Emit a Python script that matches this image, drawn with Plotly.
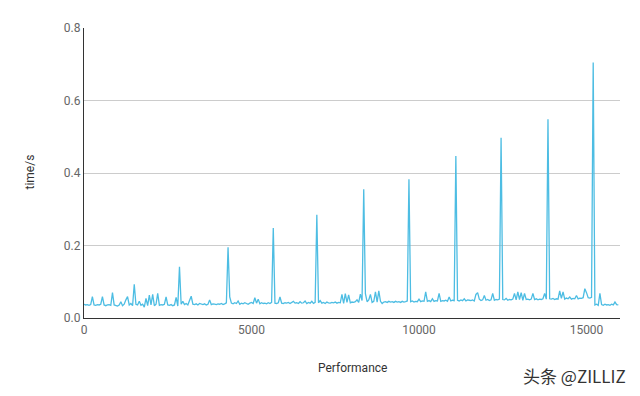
import plotly.graph_objects as go

step = 50
time_s = [
    0.038, 0.036, 0.037, 0.035, 0.037, 0.059, 0.036, 0.035, 0.037, 0.036, 0.038, 0.059, 0.036, 0.034, 0.036, 0.037, 0.035, 0.070, 0.036, 0.035,
    0.033, 0.036, 0.045, 0.034, 0.038, 0.050, 0.059, 0.036, 0.040, 0.034, 0.093, 0.038, 0.036, 0.046, 0.035, 0.038, 0.030, 0.054, 0.034, 0.063,
    0.036, 0.065, 0.034, 0.038, 0.068, 0.035, 0.037, 0.036, 0.038, 0.058, 0.036, 0.035, 0.037, 0.034, 0.036, 0.057, 0.033, 0.141, 0.038, 0.046,
    0.037, 0.040, 0.036, 0.048, 0.060, 0.038, 0.037, 0.039, 0.036, 0.040, 0.038, 0.037, 0.039, 0.036, 0.038, 0.050, 0.037, 0.039, 0.038, 0.037,
    0.039, 0.038, 0.040, 0.037, 0.039, 0.042, 0.195, 0.058, 0.041, 0.039, 0.042, 0.040, 0.047, 0.038, 0.041, 0.039, 0.042, 0.040, 0.038, 0.041,
    0.043, 0.040, 0.056, 0.041, 0.052, 0.039, 0.042, 0.040, 0.041, 0.039, 0.042, 0.040, 0.043, 0.248, 0.041, 0.040, 0.042, 0.058, 0.041, 0.040,
    0.042, 0.041, 0.043, 0.040, 0.042, 0.046, 0.041, 0.042, 0.040, 0.045, 0.041, 0.042, 0.047, 0.040, 0.043, 0.041, 0.046, 0.040, 0.043, 0.285,
    0.042, 0.048, 0.041, 0.043, 0.040, 0.044, 0.042, 0.041, 0.043, 0.042, 0.044, 0.041, 0.043, 0.042, 0.065, 0.040, 0.067, 0.043, 0.064, 0.042,
    0.044, 0.043, 0.045, 0.050, 0.043, 0.066, 0.048, 0.355, 0.067, 0.045, 0.050, 0.065, 0.043, 0.046, 0.072, 0.044, 0.075, 0.046, 0.040, 0.044,
    0.045, 0.043, 0.046, 0.044, 0.045, 0.043, 0.046, 0.044, 0.045, 0.043, 0.046, 0.044, 0.045, 0.047, 0.383, 0.045, 0.047, 0.044, 0.046, 0.045,
    0.052, 0.045, 0.047, 0.046, 0.072, 0.046, 0.048, 0.045, 0.053, 0.046, 0.048, 0.047, 0.068, 0.046, 0.048, 0.047, 0.049, 0.046, 0.058, 0.047,
    0.049, 0.048, 0.447, 0.049, 0.047, 0.050, 0.048, 0.053, 0.047, 0.050, 0.049, 0.048, 0.050, 0.047, 0.065, 0.070, 0.052, 0.048, 0.050, 0.062,
    0.049, 0.051, 0.048, 0.050, 0.068, 0.049, 0.051, 0.050, 0.052, 0.497, 0.051, 0.050, 0.054, 0.049, 0.051, 0.050, 0.052, 0.068, 0.050, 0.072,
    0.051, 0.070, 0.049, 0.068, 0.051, 0.052, 0.050, 0.052, 0.068, 0.051, 0.053, 0.050, 0.052, 0.051, 0.053, 0.068, 0.052, 0.548, 0.053, 0.052,
    0.054, 0.051, 0.053, 0.052, 0.075, 0.054, 0.072, 0.052, 0.055, 0.053, 0.058, 0.052, 0.054, 0.053, 0.062, 0.053, 0.055, 0.054, 0.056, 0.081,
    0.070, 0.056, 0.055, 0.057, 0.705, 0.036, 0.038, 0.035, 0.068, 0.037, 0.035, 0.038, 0.036, 0.037, 0.035, 0.038, 0.036, 0.044, 0.037, 0.036,
]
performance = [i * step for i in range(len(time_s))]

y_ticks = [0.0, 0.2, 0.4, 0.6, 0.8]
x_ticks = [0, 5000, 10000, 15000]

fig = go.Figure()
fig.add_trace(go.Scatter(
    x=performance, y=time_s, mode="lines",
    line=dict(color="#4dbde3", width=1.3),
    showlegend=False,
))

fig.update_layout(
    width=640, height=396,
    margin=dict(l=76, r=28, t=20, b=86, autoexpand=False),
    paper_bgcolor="white", plot_bgcolor="white",
    font=dict(family="Roboto", size=12, color="#666666"),
    xaxis=dict(
        range=[0, 16000], tickvals=x_ticks, ticktext=[str(v) for v in x_ticks],
        showgrid=False, showline=True, linecolor="#333333", linewidth=1.2,
        zeroline=False, ticks="", automargin=False,
    ),
    yaxis=dict(
        range=[0, 0.8], tickvals=y_ticks, ticktext=[f"{v:.1f}" for v in y_ticks],
        showgrid=True, gridcolor="#cccccc", gridwidth=1,
        showline=True, linecolor="#333333", linewidth=1.2,
        zeroline=False, ticks="", automargin=False,
    ),
)

fig.add_annotation(
    text="Performance", xref="paper", yref="paper", x=0.5, y=-0.172,
    xanchor="center", yanchor="middle", showarrow=False,
    font=dict(family="Roboto", size=12, color="#333333"),
)
fig.add_annotation(
    text="time/s", xref="paper", yref="paper", x=-0.1, y=0.503,
    xanchor="center", yanchor="middle", showarrow=False, textangle=-90,
    font=dict(family="Roboto", size=12, color="#333333"),
)
fig.add_annotation(
    text="头条 @ZILLIZ", xref="paper", yref="paper", x=1.015, y=-0.197,
    xanchor="right", yanchor="middle", showarrow=False,
    font=dict(family="Noto Sans CJK SC", size=17, color="#333333"),
)

fig.write_html("out.html")
